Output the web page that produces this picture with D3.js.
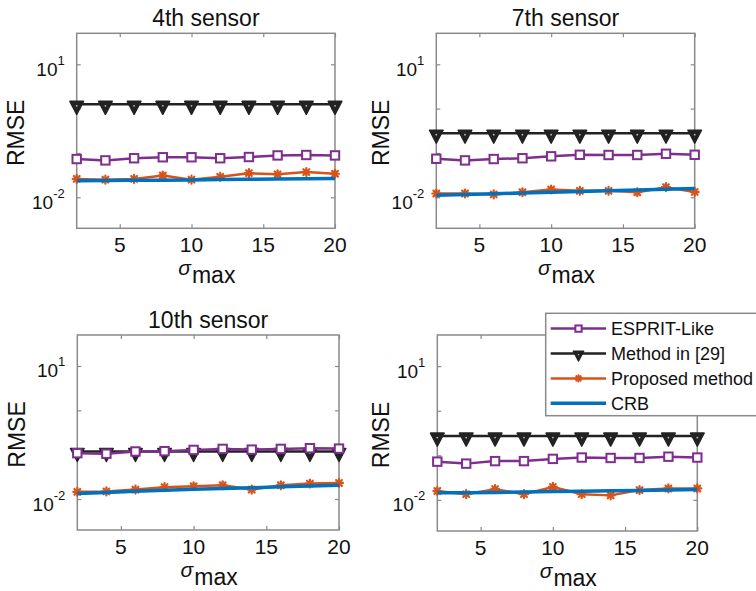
<!DOCTYPE html>
<html>
<head>
<meta charset="utf-8">
<script src="https://cdn.jsdelivr.net/npm/d3@7"></script>
<style>
  html, body { margin: 0; padding: 0; background: #fff; }
  svg { display: block; font-family: "Liberation Sans", Arial, Helvetica, sans-serif; }
</style>
</head>
<body>
<svg id="chart" width="756" height="591"></svg>
<script>
// ---------------- data ----------------
const sigmaMax = [2, 4, 6, 8, 10, 12, 14, 16, 18, 20];
const seriesNames = ["ESPRIT-Like", "Method in [29]", "Proposed method", "CRB"];
const panelTitles = ["4th sensor", "7th sensor", "10th sensor", ""];
const xTickValues = [5, 10, 15, 20];
const yTickValues = [10, 1, 0.1, 0.01];
const yTickLabelled = [10, 0.01];
const yDomain = [0.002, 50];
const xDomain = [2, 20];

// 4th sensor
const esprit4   = [0.073, 0.068, 0.076, 0.080, 0.080, 0.076, 0.081, 0.088, 0.090, 0.088];
const method4   = [1.25, 1.25, 1.25, 1.25, 1.25, 1.25, 1.25, 1.25, 1.25, 1.25];
const proposed4 = [0.026, 0.025, 0.026, 0.031, 0.025, 0.029, 0.035, 0.033, 0.037, 0.034];
const crb4      = [0.0235, 0.0238, 0.0241, 0.0244, 0.0247, 0.0251, 0.0254, 0.0258, 0.0262, 0.0266];
// 7th sensor
const esprit7   = [0.074, 0.068, 0.073, 0.076, 0.084, 0.091, 0.090, 0.090, 0.096, 0.091];
const method7   = [0.28, 0.28, 0.28, 0.28, 0.28, 0.28, 0.28, 0.28, 0.28, 0.28];
const proposed7 = [0.0122, 0.0122, 0.0116, 0.0130, 0.0150, 0.0140, 0.0140, 0.0130, 0.0169, 0.0132];
const crb7      = [0.0111, 0.0115, 0.0120, 0.0125, 0.0130, 0.0135, 0.0140, 0.0146, 0.0152, 0.0158];
// 10th sensor
const esprit10   = [0.108, 0.105, 0.118, 0.120, 0.128, 0.135, 0.130, 0.135, 0.140, 0.137];
const method10   = [0.118, 0.118, 0.118, 0.118, 0.118, 0.118, 0.118, 0.118, 0.118, 0.118];
const proposed10 = [0.0145, 0.0148, 0.0163, 0.0185, 0.0194, 0.0204, 0.0163, 0.0204, 0.0223, 0.0230];
const crb10      = [0.0133, 0.0141, 0.0149, 0.0157, 0.0165, 0.0172, 0.0180, 0.0188, 0.0196, 0.0204];
// 4th panel (no title)
const espritD   = [0.072, 0.065, 0.074, 0.074, 0.083, 0.089, 0.087, 0.087, 0.093, 0.089];
const methodD   = [0.27, 0.27, 0.27, 0.27, 0.27, 0.27, 0.27, 0.27, 0.27, 0.27];
const proposedD = [0.0158, 0.0134, 0.0174, 0.0134, 0.0195, 0.0134, 0.0126, 0.0166, 0.0180, 0.0180];
const crbD      = [0.0144, 0.0145, 0.0147, 0.0150, 0.0153, 0.0156, 0.0159, 0.0163, 0.0167, 0.0170];

const panelData = [
  [esprit4, method4, proposed4, crb4],
  [esprit7, method7, proposed7, crb7],
  [esprit10, method10, proposed10, crb10],
  [espritD, methodD, proposedD, crbD]
];

// ---------------- styles / layout ----------------
const colors = ["#7E2F8E", "#222222", "#D95319", "#0072BD"];
const widths = [2.5, 2.5, 2.5, 3.5];
const markers = ["square", "triangle", "star", "none"];
const drawOrder = [1, 0, 2, 3];
const axisColor = "#8a8a8a";

const panels = [
  {left: 76.7, right: 335, top: 33.3, bottom: 228.3, ylabX: 23.5},
  {left: 436.3, right: 694.7, top: 33.3, bottom: 228.3, ylabX: 389},
  {left: 77.3, right: 339, top: 335, bottom: 530, ylabX: 24.5},
  {left: 437.3, right: 697.3, top: 335, bottom: 531, ylabX: 389}
];

const svg = d3.select("#chart");

function drawMarker(g, type, x, y, color, scale) {
  const s = scale || 1;
  if (type === "square") {
    g.append("rect").attr("x", x - 4.2 * s).attr("y", y - 4.2 * s)
      .attr("width", 8.4 * s).attr("height", 8.4 * s)
      .attr("fill", "#fff").attr("stroke", color).attr("stroke-width", 2);
  } else if (type === "triangle") {
    const p = d3.path();
    p.moveTo(x - 6.8 * s, y - 3 * s);
    p.lineTo(x + 6.8 * s, y - 3 * s);
    p.lineTo(x, y + 10 * s);
    p.closePath();
    g.append("path").attr("d", p.toString()).attr("fill", color)
      .attr("stroke", color).attr("stroke-width", 1.5).attr("stroke-linejoin", "round");
    g.append("circle").attr("cx", x).attr("cy", y + 1.5 * s).attr("r", 0.9 * s)
      .attr("fill", "#bbb");
  } else if (type === "star") {
    const r = 4 * s;
    const d = r * 0.72;
    const segs = [[-r, 0, r, 0], [0, -r, 0, r], [-d, -d, d, d], [-d, d, d, -d]];
    segs.forEach(q => {
      g.append("line").attr("x1", x + q[0]).attr("y1", y + q[1])
        .attr("x2", x + q[2]).attr("y2", y + q[3])
        .attr("stroke", color).attr("stroke-width", 2.2).attr("stroke-linecap", "round");
    });
  }
}

panels.forEach((P, pi) => {
  const g = svg.append("g");
  const xs = d3.scaleLinear().domain(xDomain).range([P.left, P.right]);
  const ys = d3.scaleLog().domain(yDomain).range([P.bottom, P.top]);

  // frame
  g.append("rect").attr("x", P.left).attr("y", P.top)
    .attr("width", P.right - P.left).attr("height", P.bottom - P.top)
    .attr("fill", "#fff").attr("stroke", axisColor).attr("stroke-width", 1.5);

  // x ticks (bottom & top) via axis generators
  const axB = d3.axisBottom(xs).tickValues(xTickValues).tickSizeInner(-4).tickSizeOuter(0).tickFormat("");
  const axT = d3.axisTop(xs).tickValues(xTickValues).tickSizeInner(-4).tickSizeOuter(0).tickFormat("");
  const gB = g.append("g").attr("transform", `translate(0,${P.bottom})`).call(axB);
  const gT = g.append("g").attr("transform", `translate(0,${P.top})`).call(axT);
  const axL = d3.axisLeft(ys).tickValues(yTickValues).tickSizeInner(-4).tickSizeOuter(0).tickFormat("");
  const axR = d3.axisRight(ys).tickValues(yTickValues).tickSizeInner(-4).tickSizeOuter(0).tickFormat("");
  const gL = g.append("g").attr("transform", `translate(${P.left},0)`).call(axL);
  const gR = g.append("g").attr("transform", `translate(${P.right},0)`).call(axR);
  [gB, gT, gL, gR].forEach(a => {
    a.select(".domain").remove();
    a.selectAll("line").attr("stroke", axisColor).attr("stroke-width", 1.2);
  });

  // x tick labels
  xTickValues.forEach(v => {
    g.append("text").attr("x", xs(v)).attr("y", P.bottom + 23.5)
      .attr("text-anchor", "middle").attr("font-size", 21).attr("fill", "#111")
      .text(v);
  });
  // y tick labels (10^1 and 10^-2)
  yTickLabelled.forEach(v => {
    const e = Math.round(Math.log10(v));
    const t = g.append("text").attr("x", P.left - 12).attr("y", ys(v) + 11.5)
      .attr("text-anchor", "end").attr("fill", "#111");
    t.append("tspan").attr("font-size", 19).text("10");
    t.append("tspan").attr("font-size", 13).attr("dy", -11).text(e < 0 ? "-" + (-e) : String(e));
  });

  // title
  if (panelTitles[pi]) {
    g.append("text").attr("x", (P.left + P.right) / 2).attr("y", P.top - 7)
      .attr("text-anchor", "middle").attr("font-size", 23).attr("fill", "#111")
      .text(panelTitles[pi]);
  }
  // x label sigma_max
  const xl = g.append("text").attr("x", (P.left + P.right) / 2 + 1).attr("y", P.bottom + 46.5)
    .attr("text-anchor", "middle").attr("fill", "#111");
  xl.append("tspan").attr("font-size", 21).attr("font-style", "italic").text("σ");
  xl.append("tspan").attr("font-size", 23).attr("dy", 8.5).attr("dx", 1).text("max");
  // y label
  g.append("text")
    .attr("transform", `translate(${P.ylabX},${(P.top + P.bottom) / 2 + 2}) rotate(-90)`)
    .attr("text-anchor", "middle").attr("font-size", 23).attr("fill", "#111")
    .text("RMSE");

  // series
  const clipId = "clip" + pi;
  g.append("clipPath").attr("id", clipId).append("rect")
    .attr("x", P.left - 10).attr("y", P.top).attr("width", P.right - P.left + 20)
    .attr("height", P.bottom - P.top);
  const plot = g.append("g").attr("clip-path", `url(#${clipId})`);
  const line = d3.line().x((d, i) => xs(sigmaMax[i])).y(d => ys(d));
  drawOrder.forEach(si => {
    const vals = panelData[pi][si];
    plot.append("path").datum(vals).attr("d", line)
      .attr("fill", "none").attr("stroke", colors[si]).attr("stroke-width", widths[si])
      .attr("stroke-linejoin", "round");
    if (markers[si] !== "none") {
      vals.forEach((v, i) => drawMarker(plot, markers[si], xs(sigmaMax[i]), ys(v), colors[si], 1));
    }
  });
});

// ---------------- legend ----------------
const L = {x: 545.7, y: 313.3, w: 220, h: 102.4, row0: 328.6, rowStep: 24.9};
const lg = svg.append("g");
lg.append("rect").attr("x", L.x).attr("y", L.y).attr("width", L.w).attr("height", L.h)
  .attr("fill", "#fff").attr("stroke", axisColor).attr("stroke-width", 1.5);
seriesNames.forEach((name, si) => {
  const cy = L.row0 + si * L.rowStep;
  lg.append("line").attr("x1", 550.7).attr("x2", 606).attr("y1", cy).attr("y2", cy)
    .attr("stroke", colors[si]).attr("stroke-width", widths[si]);
  if (markers[si] !== "none") drawMarker(lg, markers[si], 578.5, cy, colors[si], 0.75);
  lg.append("text").attr("x", 611).attr("y", cy + 6.5).attr("font-size", 18).attr("fill", "#111")
    .text(name);
});
</script>
</body>
</html>
